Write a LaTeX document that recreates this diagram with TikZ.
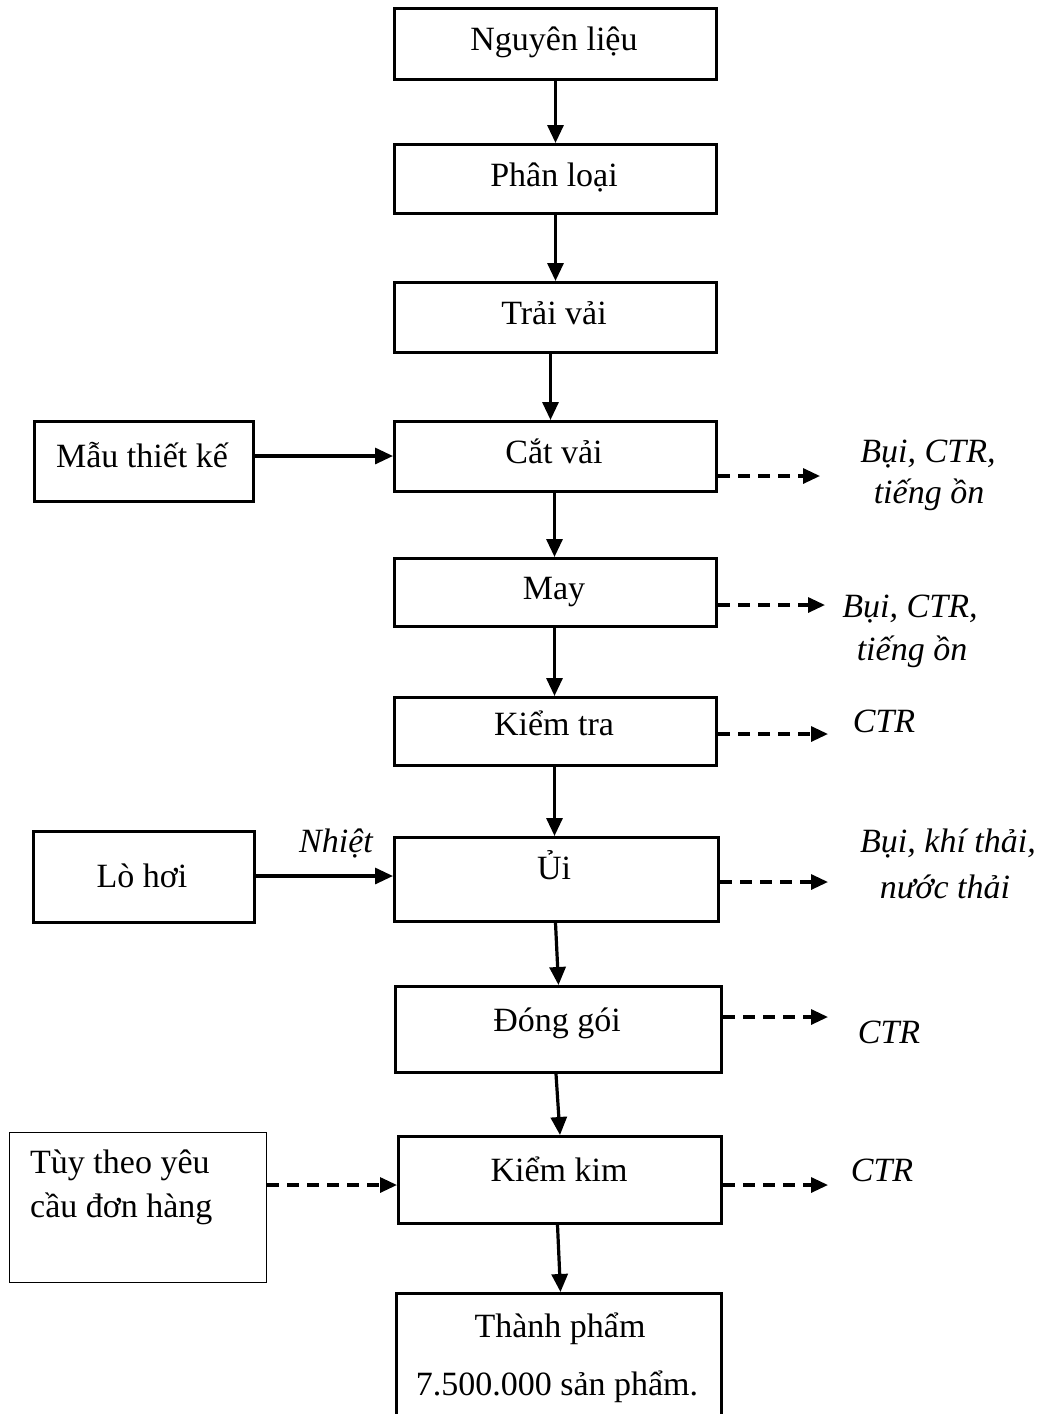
\documentclass[tikz,border=0pt]{standalone}
\usepackage{fontspec}
\setmainfont{Liberation Serif}
\usetikzlibrary{arrows.meta,calc}

\tikzset{
  box/.style={draw, line width=3pt, rectangle, inner sep=0pt, anchor=north west},
  thinbox/.style={draw, line width=1.4pt, rectangle, inner sep=0pt, anchor=north west},
  txt/.style={inner sep=0pt, anchor=base, font=\fontsize{34}{40}\selectfont},
  itxt/.style={txt, font=\fontsize{34}{40}\selectfont\itshape},
  flow/.style={line width=3.2pt, -{Triangle[length=18pt,width=16pt]}},
  waste/.style={line width=3.2pt, dash pattern=on 12pt off 8pt, -{Triangle[length=17pt,width=15pt]}},
}

\begin{document}
\begin{tikzpicture}[x=1pt,y=-1pt]
\useasboundingbox (0,0) rectangle (1044,1414);
\clip (0,0) rectangle (1044,1414);

% main process chain
\node[box, minimum width=322pt, minimum height=71pt] (nl) at (393,7) {};
\node[box, minimum width=322pt, minimum height=69pt] (pl) at (393,143) {};
\node[box, minimum width=322pt, minimum height=70pt] (tv) at (393,281) {};
\node[box, minimum width=322pt, minimum height=70pt] (cv) at (393,420) {};
\node[box, minimum width=322pt, minimum height=68pt] (may) at (393,557) {};
\node[box, minimum width=322pt, minimum height=68pt] (kt) at (393,696) {};
\node[box, minimum width=324pt, minimum height=84pt] (ui) at (393,836) {};
\node[box, minimum width=326pt, minimum height=86pt] (dg) at (394,985) {};
\node[box, minimum width=323pt, minimum height=87pt] (kk) at (397,1135) {};
\node[box, minimum width=325pt, minimum height=150pt] (tp) at (395,1292) {};

\node[txt] (tnl) at (554,50) {Nguyên liệu};
\node[txt] (tpl) at (554,186) {Phân loại};
\node[txt] (ttv) at (554,324) {Trải vải};
\node[txt] (tcv) at (554,463) {Cắt vải};
\node[txt] (tmay) at (554,599) {May};
\node[txt] (tkt) at (554,735) {Kiểm tra};
\node[txt] (tui) at (554,879) {Ủi};
\node[txt] (tdg) at (557,1031) {Đóng gói};
\node[txt] (tkk) at (559,1181) {Kiểm kim};
\node[txt] (ttp1) at (560,1337) {Thành phẩm};
\node[txt] (ttp2) at (557,1395) {7.500.000 sản phẩm.};

% side inputs
\node[box, minimum width=219pt, minimum height=80pt] (mau) at (33,420) {};
\node[txt] (tmau) at (142,467) {Mẫu thiết kế};
\node[box, minimum width=221pt, minimum height=91pt] (lo) at (32,830) {};
\node[txt] (tlo) at (142,887) {Lò hơi};
\node[thinbox, minimum width=257pt, minimum height=150pt] (tuy) at (9,1132) {};
\node[txt, anchor=base west] (ttuy1) at (30,1173) {Tùy theo yêu};
\node[txt, anchor=base west] (ttuy2) at (30,1217) {cầu đơn hàng};
\node[itxt] (nhiet) at (336,852) {Nhiệt};

% waste outputs
\coordinate (w1) at (820,476);
\coordinate (w2) at (825,605);
\coordinate (w3) at (828,734);
\coordinate (w4) at (828,882);
\coordinate (w5) at (828,1017);
\coordinate (w6) at (828,1185);
\node[itxt] (o1a) at (928,462) {Bụi, CTR,};
\node[itxt] (o1b) at (929,503) {tiếng ồn};
\node[itxt] (o2a) at (910,617) {Bụi, CTR,};
\node[itxt] (o2b) at (912,660) {tiếng ồn};
\node[itxt] (o3) at (884,732) {CTR};
\node[itxt] (o4a) at (948,852) {Bụi, khí thải,};
\node[itxt] (o4b) at (945,898) {nước thải};
\node[itxt] (o5) at (889,1043) {CTR};
\node[itxt] (o6) at (882,1181) {CTR};

% vertical flow
\draw[flow] (nl.south) -- (pl.north);
\draw[flow] (pl.south) -- (tv.north);
\draw[flow] ([xshift=-5pt]tv.south) -- ([xshift=-5pt]cv.north);
\draw[flow] ([xshift=-1pt]cv.south) -- ([xshift=-1pt]may.north);
\draw[flow] ([xshift=-1pt]may.south) -- ([xshift=-1pt]kt.north);
\draw[flow] ([xshift=-1pt]kt.south) -- ([xshift=-2pt]ui.north);
\draw[flow] ([xshift=-1pt]ui.south) -- ([xshift=0pt]dg.north);
\draw[flow] ([xshift=-2.5pt]dg.south) -- ([xshift=0pt]kk.north);
\draw[flow] ([xshift=-2.5pt]kk.south) -- ([xshift=1.5pt]tp.north);

% horizontal inputs
\draw[flow] (mau.east |- 0,456) -- (cv.west |- 0,456);
\draw[flow] (lo.east |- 0,876) -- (ui.west |- 0,876);
\draw[waste] (tuy.east |- 0,1185) -- (kk.west |- 0,1185);

% waste arrows
\draw[waste] (cv.east |- w1) -- (w1);
\draw[waste] (may.east |- w2) -- (w2);
\draw[waste] (kt.east |- w3) -- (w3);
\draw[waste] (ui.east |- w4) -- (w4);
\draw[waste] (dg.east |- w5) -- (w5);
\draw[waste] (kk.east |- w6) -- (w6);
\end{tikzpicture}
\end{document}
